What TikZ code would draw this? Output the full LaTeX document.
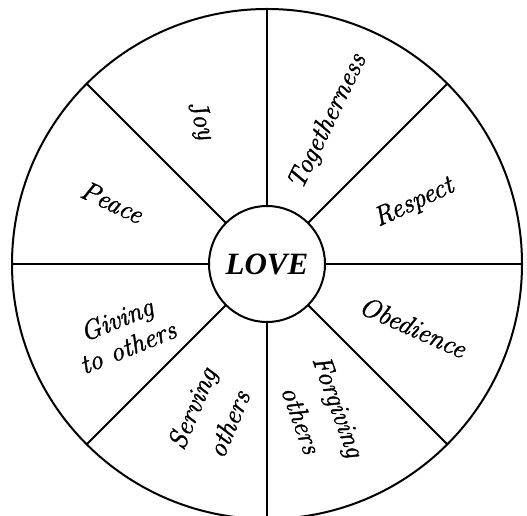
\documentclass[tikz,border=0pt]{standalone}
\usepackage{fontspec}
\newfontfamily\lovefont{Liberation Serif}
\newfontfamily\wheelfont{Latin Modern Roman}[FakeBold=1.5]
\begin{document}
\begin{tikzpicture}[x=1pt,y=1pt,
  ring/.style={circle,draw,line width=2pt,inner sep=0pt,outer sep=0pt},
  spoke/.style={line width=2pt},
  lbl/.style={font=\wheelfont\itshape\fontsize{27}{30}\selectfont,align=center,inner sep=0pt}]
\useasboundingbox[fill=white] (0,0) rectangle (527,516);
\coordinate (o) at (267,252);
\node[ring,minimum size=510pt] (rim) at (o) {};
\node[ring,minimum size=116pt,font=\lovefont\bfseries\itshape\fontsize{31}{31}\selectfont] (love) at (o) {LOVE};
\foreach \a in {0,45,...,315}{
  \draw[spoke] (love.\a) -- (rim.\a);
}
\node[lbl,rotate=-72] (joy) at (200,396) {Joy};
\node[lbl,rotate=64] (tog) at (328,394) {Togetherness};
\node[lbl,rotate=25] (resp) at (414,313) {Respect};
\node[lbl,rotate=-24] (obed) at (413,189) {Obedience};
\node[lbl,rotate=-70,font=\wheelfont\itshape\fontsize{27}{40}\selectfont] (forg) at (320,103) {Forgiving\\others};
\node[lbl,rotate=67,font=\wheelfont\itshape\fontsize{27}{40}\selectfont] (serv) at (210,100) {Serving\\others};
\node[lbl,rotate=22,font=\wheelfont\itshape\fontsize{27}{30}\selectfont] (give) at (122,183) {Giving\\to others};
\node[lbl,rotate=-25] (peace) at (112,314) {Peace};
\end{tikzpicture}
\end{document}
